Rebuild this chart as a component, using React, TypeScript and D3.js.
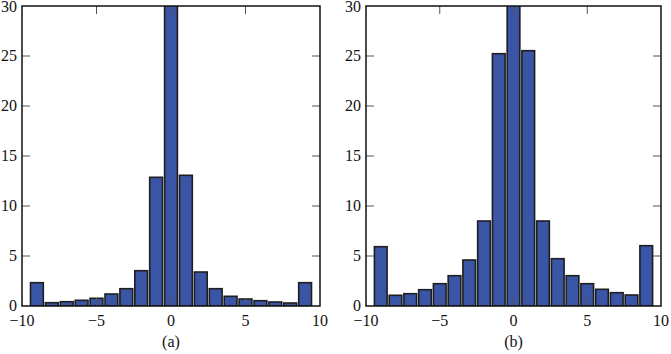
import React from "react";
import * as d3 from "d3";

const centers = [-9, -8, -7, -6, -5, -4, -3, -2, -1, 0, 1, 2, 3, 4, 5, 6, 7, 8, 9];
const valuesA = [2.33, 0.33, 0.43, 0.57, 0.77, 1.2, 1.73, 3.53, 12.87, 34, 13.07, 3.4, 1.73, 0.97, 0.7, 0.53, 0.4, 0.3, 2.33];
const valuesB = [5.93, 1.07, 1.23, 1.63, 2.23, 3.03, 4.6, 8.5, 25.23, 34, 25.53, 8.5, 4.73, 3.03, 2.23, 1.67, 1.33, 1.1, 6.03];
const xTicks = [-10, -5, 0, 5, 10];
const yTicks = [0, 5, 10, 15, 20, 25, 30];
const captions = ["(a)", "(b)"];

const FONT = "Liberation Serif, Times New Roman, Times, serif";

function Panel({ left, right, values, caption, id }: { left: number; right: number; values: number[]; caption: string; id: string }) {
  const top = 6;
  const bottom = 306;
  const x = d3.scaleLinear().domain([-10, 10]).range([left, right]);
  const y = d3.scaleLinear().domain([0, 30]).range([bottom, top]);
  const bw = 0.86;
  return (
    <g>
      <defs>
        <clipPath id={id}>
          <rect x={left} y={top} width={right - left} height={bottom - top} />
        </clipPath>
      </defs>
      <g clipPath={`url(#${id})`}>
        {centers.map((c, i) => {
          const x0 = x(c - bw / 2);
          const x1 = x(c + bw / 2);
          const yt = y(values[i]);
          return (
            <rect key={i} x={x0} y={yt} width={x1 - x0} height={bottom - yt}
              fill="#3a54a6" stroke="#1e1e1e" strokeWidth={1.6} />
          );
        })}
      </g>
      {xTicks.slice(1, -1).map((t) => (
        <g key={"xt" + t}>
          <line x1={x(t)} x2={x(t)} y1={bottom} y2={bottom - 8} stroke="#555" strokeWidth={1} />
          <line x1={x(t)} x2={x(t)} y1={top} y2={top + 8} stroke="#555" strokeWidth={1} />
        </g>
      ))}
      {yTicks.slice(1, -1).map((t) => (
        <g key={"yt" + t}>
          <line x1={left} x2={left + 8} y1={y(t)} y2={y(t)} stroke="#555" strokeWidth={1} />
          <line x1={right} x2={right - 8} y1={y(t)} y2={y(t)} stroke="#555" strokeWidth={1} />
        </g>
      ))}
      <rect x={left} y={top} width={right - left} height={bottom - top} fill="none" stroke="#111" strokeWidth={1.5} />
      {xTicks.map((t) => (
        <text key={"xl" + t} x={x(t)} y={326} textAnchor="middle" fontFamily={FONT} fontSize={16} fill="#111">
          {t < 0 ? "\u2212" + Math.abs(t) : String(t)}
        </text>
      ))}
      {yTicks.map((t) => (
        <text key={"yl" + t} x={left - 5} y={t === 30 ? y(t) + 6 : y(t) + 5} textAnchor="end" fontFamily={FONT} fontSize={16} fill="#111">
          {t}
        </text>
      ))}
      <text x={(left + right) / 2} y={347} textAnchor="middle" fontFamily={FONT} fontSize={16} fill="#111">
        {caption}
      </text>
    </g>
  );
}

export default function App() {
  return (
    <svg width={671} height={354} style={{ position: "absolute", left: 0, top: 0, background: "#fff" }}>
      <rect width={671} height={354} fill="#fff" />
      <Panel left={22} right={320} values={valuesA} caption={captions[0]} id="clipA" />
      <Panel left={366} right={661} values={valuesB} caption={captions[1]} id="clipB" />
    </svg>
  );
}
